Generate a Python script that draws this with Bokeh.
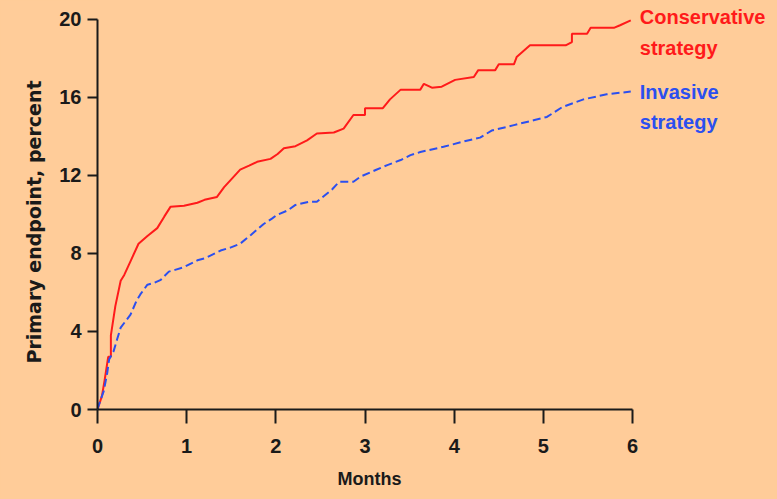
from bokeh.plotting import figure
from bokeh.models import Range1d, FixedTicker, Label, Title
from bokeh.embed import file_html
from bokeh.resources import INLINE

# Data (months, percent)
cons_months = [0, 0.05, 0.08, 0.12, 0.15, 0.15, 0.2, 0.26, 0.3, 0.38, 0.46, 0.56, 0.67, 0.75, 0.82,
               0.97, 1.12, 1.2, 1.34, 1.42, 1.5, 1.6, 1.7, 1.79, 1.94, 2.02, 2.09, 2.22, 2.35, 2.46,
               2.65, 2.76, 2.87, 3.0, 3.0, 3.2, 3.28, 3.4, 3.62, 3.66, 3.75, 3.86, 4.01, 4.22, 4.27,
               4.46, 4.5, 4.67, 4.7, 4.85, 5.25, 5.32, 5.32, 5.49, 5.53, 5.79, 5.86, 5.98]
cons_pct = [0, 0.7, 1.5, 2.7, 2.7, 3.8, 5.3, 6.6, 6.9, 7.7, 8.5, 8.9, 9.3, 9.9, 10.4,
            10.45, 10.6, 10.75, 10.9, 11.4, 11.8, 12.3, 12.5, 12.7, 12.85, 13.1, 13.4, 13.5, 13.8, 14.15,
            14.2, 14.4, 15.1, 15.1, 15.45, 15.45, 15.9, 16.4, 16.4, 16.7, 16.5, 16.55, 16.9, 17.05, 17.4,
            17.4, 17.7, 17.7, 18.07, 18.67, 18.67, 18.84, 19.26, 19.26, 19.57, 19.57, 19.7, 19.95]

inv_months = [0, 0.01, 0.07, 0.11, 0.13, 0.18, 0.22, 0.26, 0.31, 0.37, 0.44, 0.48, 0.56, 0.63, 0.71,
              0.8, 0.87, 0.97, 1.12, 1.21, 1.38, 1.49, 1.6, 1.72, 1.86, 1.96, 2.01, 2.13, 2.22, 2.37,
              2.46, 2.63, 2.71, 2.87, 2.95, 3.12, 3.25, 3.4, 3.51, 3.62, 3.88, 4.14, 4.29, 4.42, 4.67,
              4.89, 5.04, 5.21, 5.45, 5.71, 5.98]
inv_pct = [0, 0.17, 0.94, 1.9, 2.56, 2.98, 3.6, 4.2, 4.5, 4.86, 5.6, 5.9, 6.4, 6.48, 6.65,
           7.07, 7.16, 7.3, 7.65, 7.76, 8.15, 8.3, 8.5, 8.95, 9.5, 9.8, 9.97, 10.2, 10.49, 10.65,
           10.65, 11.28, 11.68, 11.68, 11.94, 12.28, 12.53, 12.79, 13.04, 13.2, 13.47, 13.78, 13.94, 14.3, 14.58,
           14.83, 15.0, 15.5, 15.9, 16.16, 16.3]

x_ticks = [0, 1, 2, 3, 4, 5, 6]
y_ticks = [0, 4, 8, 12, 16, 20]
series_labels = [("Conservative", "strategy"), ("Invasive", "strategy")]
x_title = "Months"
y_title = "Primary endpoint, percent"

BG = "#FFCC99"
RED = "#FF1A1A"
BLUE = "#2B4FEF"
INK = "#1A1A1A"
FONT = "Liberation Sans"

# frame: x 0..6 spans 535 px (89.17 px/month); y 0..20 spans 391 px (19.55 px/pct)
p = figure(width=775, height=499, output_backend="svg", toolbar_location=None,
           x_range=Range1d(0, 7.603), y_range=Range1d(0, 20.97),
           min_border_left=97, min_border_right=0, min_border_top=0, min_border_bottom=89)
p.background_fill_color = BG
p.border_fill_color = BG
p.outline_line_color = None
p.xgrid.visible = False
p.ygrid.visible = False

p.line(cons_months, cons_pct, line_color=RED, line_width=2)
p.line(inv_months, inv_pct, line_color=BLUE, line_width=2, line_dash="8 4")

for ax in (p.xaxis[0], p.yaxis[0]):
    ax.axis_line_color = INK
    ax.axis_line_width = 2
    ax.major_tick_line_color = INK
    ax.major_tick_line_width = 2
    ax.major_tick_in = 0
    ax.minor_tick_line_color = None
    ax.major_label_text_font = FONT
    ax.major_label_text_font_style = "bold"
    ax.major_label_text_font_size = "20px"
    ax.major_label_text_color = INK

p.xaxis.ticker = FixedTicker(ticks=x_ticks)
p.yaxis.ticker = FixedTicker(ticks=y_ticks)
p.xaxis.bounds = (x_ticks[0], x_ticks[-1])
p.yaxis.bounds = (y_ticks[0], y_ticks[-1])
p.xaxis.major_tick_out = 14
p.xaxis.major_label_standoff = 15
p.yaxis.major_tick_out = 10
p.yaxis.major_label_standoff = 6

# axis titles as side titles so they can be shifted along the axis
p.add_layout(Title(text=x_title, align="left", offset=240, standoff=22,
                   text_font=FONT, text_font_style="bold", text_font_size="18px",
                   text_color=INK), "below")
p.add_layout(Title(text=y_title, align="left", offset=46, standoff=24,
                   text_font="DejaVu Sans", text_font_style="bold", text_font_size="19px",
                   text_color=INK), "left")

# series labels placed just right of each curve's end
lab_style = dict(text_font=FONT, text_font_style="bold", text_font_size="20px",
                 text_baseline="middle", text_align="left", x_offset=9)
for (l1, l2), xs, ys, col, dy in [(series_labels[0], cons_months, cons_pct, RED, 0.15),
                                  (series_labels[1], inv_months, inv_pct, BLUE, -0.03)]:
    p.add_layout(Label(x=xs[-1], y=ys[-1] + dy, text=l1, text_color=col, **lab_style))
    p.add_layout(Label(x=xs[-1], y=ys[-1] + dy - 1.55, text=l2, text_color=col, **lab_style))

html = file_html(p, INLINE)
html = html.replace("<head>", "<head><style>html,body{background:%s;}</style>" % BG, 1)
open("out.html", "w").write(html)
